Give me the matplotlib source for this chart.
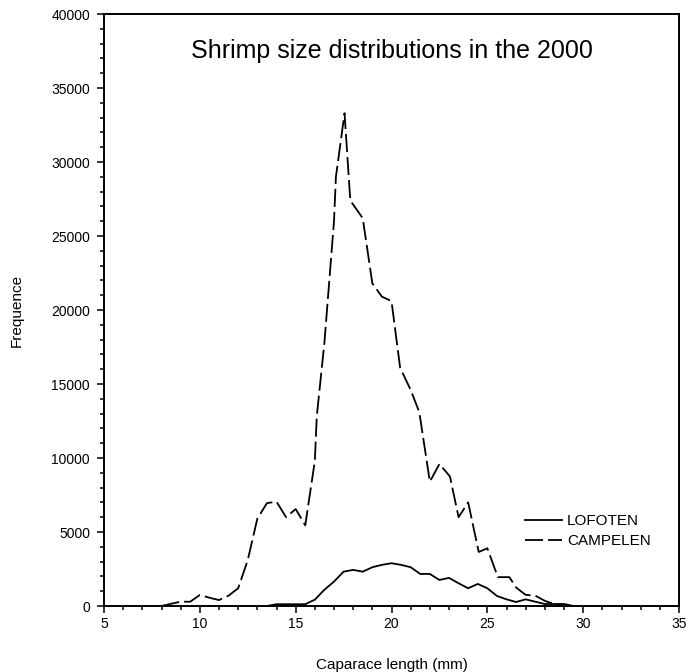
import matplotlib
matplotlib.use("Agg")
import matplotlib.pyplot as plt
from matplotlib.ticker import MultipleLocator

plt.rcParams['font.family'] = ['Liberation Sans', 'DejaVu Sans']
plt.rcParams['lines.scale_dashes'] = False

# Campelen trawl (dashed)
campelen_x = [8.0, 8.5, 9.0, 9.5, 10.0, 10.5, 11.0, 11.5, 12.0, 12.5, 13.0, 13.5,
              14.0, 14.5, 15.0, 15.5, 16.0, 16.1, 16.5, 17.0, 17.1, 17.55, 17.85,
              18.5, 19.0, 19.5, 20.0, 20.45, 21.0, 21.45, 22.0, 22.5, 23.05, 23.5,
              24.0, 24.55, 25.0, 25.55, 26.15, 26.5, 27.0, 27.5, 28.0, 28.5, 29.0]
campelen_y = [0, 150, 290, 290, 745, 560, 400, 700, 1200, 3100, 5900, 6950,
              7050, 6000, 6550, 5450, 9800, 12800, 17800, 26000, 29000, 33300, 27400,
              26200, 21800, 20900, 20600, 16100, 14600, 13100, 8400, 9600, 8750, 6000,
              7000, 3650, 3900, 1950, 1950, 1250, 750, 700, 350, 120, 0]

# Lofoten trawl (solid)
lofoten_x = [13.5, 14.0, 14.5, 15.0, 15.5, 16.0, 16.5, 17.0, 17.5, 18.0, 18.5, 19.0,
             19.5, 20.0, 20.5, 21.0, 21.5, 22.0, 22.5, 23.0, 23.5, 24.0, 24.5, 25.0,
             25.5, 26.0, 26.5, 27.0, 27.5, 28.0, 28.5, 29.0, 29.5]
lofoten_y = [0, 120, 120, 120, 120, 430, 1100, 1650, 2320, 2440, 2320, 2620,
             2780, 2890, 2780, 2620, 2165, 2165, 1760, 1900, 1535, 1200, 1490, 1200,
             680, 450, 270, 450, 290, 135, 135, 135, 0]

title = "Shrimp size distributions in the 2000"
xlabel = "Caparace length (mm)"
ylabel = "Frequence"

fig = plt.figure(figsize=(6.88, 6.72), dpi=100)
ax = fig.add_axes([104/688, 1-606/672, (679-104)/688, (606-14)/672])

ax.plot(lofoten_x, lofoten_y, color='black', lw=1.3, label='LOFOTEN')
ax.plot(campelen_x, campelen_y, color='black', lw=1.3, dashes=(13, 3.6), label='CAMPELEN')

ax.set_xlim(5, 35)
ax.set_ylim(0, 40000)
ax.xaxis.set_major_locator(MultipleLocator(5))
ax.xaxis.set_minor_locator(MultipleLocator(1))
ax.yaxis.set_major_locator(MultipleLocator(5000))
ax.yaxis.set_minor_locator(MultipleLocator(1000))
ax.tick_params(which='both', direction='out', top=False, right=False, width=1.1,
               labelsize=10, colors='black')
ax.tick_params(which='major', length=5, pad=5)
ax.tick_params(axis='x', which='major', pad=3)
ax.tick_params(which='minor', length=3)
for s in ax.spines.values():
    s.set_linewidth(1.4)

ax.set_xlabel(xlabel, fontsize=11, labelpad=19)
ax.set_ylabel(ylabel, fontsize=11, labelpad=20)
ax.text(0.5, 0.958, title, transform=ax.transAxes, ha='center', va='top', fontsize=18)

leg = ax.legend(loc='upper left', bbox_to_anchor=((525-104)/575, (606-514)/592),
                frameon=False, fontsize=11, handlelength=2.4, handletextpad=0.35,
                labelspacing=0.4, borderaxespad=0, borderpad=0)

fig.savefig("out.png", dpi=100)
